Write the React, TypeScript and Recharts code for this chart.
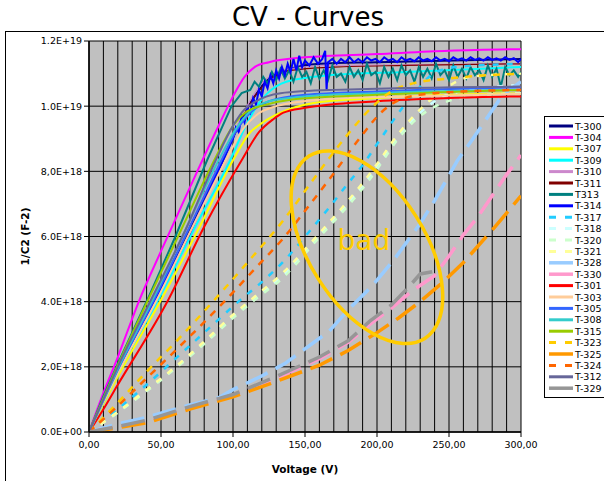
import React from 'react';
import { LineChart, Line, XAxis, YAxis, CartesianGrid, ReferenceDot, Label } from 'recharts';

// values: [voltage (V), 1/C^2 in units of 1e18 F^-2]
const T300: [number, number][] = [[0,0],[10,1.0],[20,1.95],[46,4.05],[70,6.2],[93,8.34],[105,9.5],[115,10.3],[125,10.85],[140,11.15],[160,11.3],[200,11.35],[300,11.45]];
const T304: [number, number][] = [[0,0],[10,1.2],[20,2.3],[35,4.05],[50,5.55],[70,7.5],[90,9.4],[100,10.3],[108,10.9],[115,11.2],[125,11.35],[150,11.5],[200,11.6],[250,11.7],[300,11.75]];
const T307: [number, number][] = [[0,0],[10,0.85],[20,1.7],[50,4.05],[78,6.4],[100,8.34],[112,9.2],[119,9.45],[133,9.8],[156,10.1],[200,10.25],[300,10.4]];
const T309: [number, number][] = [[0,0],[10,0.9],[20,1.8],[48,4.05],[75,6.4],[98,8.34],[110,9.5],[118,10.1],[124,10.4],[137,10.75],[167,10.95],[220,11.05],[300,11.2]];
const T310: [number, number][] = [[0,0],[20,1.9],[45,4.1],[70,6.4],[92,8.4],[105,9.6],[115,10.4],[125,10.9],[140,11.15],[170,11.25],[300,11.3]];
const T311: [number, number][] = [[0,0],[10,0.95],[20,1.9],[45,4.05],[70,6.3],[93,8.4],[105,9.5],[115,10.3],[125,10.8],[140,11.1],[170,11.2],[220,11.25],[300,11.3]];
const T313: [number, number][] = [[0,0],[10,1.1],[20,2.1],[42,4.2],[60,6.0],[82,8.34],[99,10.0],[106,10.4],[112,10.5],[115,10.75],[118,10.6],[121,10.9],[124,10.7],[127,11.05],[130,10.8],[133,11.15],[136,10.85],[139,11.1],[142,10.75],[145,11.2],[148,10.9],[151,11.05],[154,10.7],[157,11.2],[160,10.85],[163,11.1],[166,10.8],[169,11.25],[172,10.9],[175,11.0],[178,10.75],[181,11.2],[184,10.9],[187,11.1],[190,10.8],[193,11.3],[196,10.95],[199,11.05],[202,10.7],[205,11.2],[208,10.9],[211,11.15],[214,10.8],[217,11.25],[220,10.95],[223,11.1],[226,10.75],[229,11.2],[232,10.9],[235,11.15],[238,10.85],[241,11.3],[244,10.95],[247,11.1],[250,10.8],[253,11.25],[256,10.9],[259,11.15],[262,10.85],[265,11.2],[268,10.95],[271,11.1],[274,10.8],[277,11.25],[280,10.9],[283,11.15],[286,10.6],[289,11.2],[292,10.95],[295,11.1],[298,10.9],[300,11.05]];
const T314: [number, number][] = [[0,0],[10,0.95],[20,1.9],[46,4.05],[70,6.1],[93,8.34],[100,9.0],[102,9.35],[104,9.2],[106,9.7],[108,9.5],[110,9.95],[112,9.8],[114,10.25],[116,10.05],[118,10.5],[120,10.3],[122,10.75],[124,10.55],[126,10.95],[128,10.7],[130,11.1],[132,10.85],[134,11.2],[136,10.95],[138,11.3],[140,11.05],[142,11.45],[144,11.1],[146,11.55],[148,11.2],[150,11.4],[153,11.25],[156,11.5],[159,11.3],[162,11.45],[164,11.7],[165,10.5],[166,11.35],[169,11.45],[172,11.3],[175,11.45],[178,11.35],[181,11.5],[184,11.35],[187,11.45],[190,11.35],[193,11.5],[196,11.4],[199,11.45],[202,11.35],[205,11.5],[208,11.4],[211,11.45],[214,11.35],[217,11.5],[220,11.4],[223,11.45],[226,11.38],[229,11.5],[232,11.4],[235,11.45],[238,11.38],[241,11.5],[244,11.4],[247,11.45],[250,11.38],[253,11.5],[256,11.42],[259,11.47],[262,11.4],[265,11.5],[268,11.42],[271,11.47],[274,11.4],[277,11.5],[280,11.42],[283,11.47],[286,11.4],[289,11.5],[292,11.42],[295,11.47],[298,11.35],[300,11.45]];
const T317: [number, number][] = [[0,0],[20,0.7],[40,1.45],[60,2.25],[80,3.05],[105,4.05],[120,4.6],[136,5.28],[155,6.26],[167,6.9],[179,7.58],[190,8.19],[201,8.9],[218,9.97],[228,10.5],[239,11.0],[255,11.2],[300,11.3]];
const T318: [number, number][] = [[0,0],[20,0.6],[40,1.28],[60,1.98],[80,2.74],[100,3.55],[115,4.1],[135,4.82],[160,6.04],[179,6.97],[192,7.65],[202,8.27],[214,9.02],[230,9.8],[246,10.3],[265,10.5],[300,10.65]];
const T320: [number, number][] = [[0,0],[20,0.6],[40,1.25],[60,1.95],[80,2.7],[100,3.5],[115,4.05],[135,4.75],[160,5.98],[179,6.9],[192,7.58],[202,8.19],[214,8.96],[230,9.7],[246,10.1],[265,10.3],[300,10.4]];
const T321: [number, number][] = [[0,0],[20,0.62],[40,1.3],[60,2.0],[80,2.78],[100,3.6],[115,4.15],[135,4.9],[160,6.1],[179,7.05],[192,7.75],[202,8.35],[214,9.1],[230,9.9],[246,10.5],[265,10.9],[300,11.0]];
const T328: [number, number][] = [[0,0],[20,0.25],[40,0.45],[70,0.83],[90,1.05],[100,1.3],[120,1.72],[136,2.1],[150,2.55],[167,3.1],[180,3.75],[197,4.5],[212,5.3],[230,6.4],[240,7.1],[256,8.34],[266,8.96],[285,10.2],[292,10.5],[300,10.75]];
const T330: [number, number][] = [[0,0],[20,0.15],[40,0.33],[70,0.74],[100,1.12],[130,1.65],[160,2.25],[180,2.75],[195,3.3],[210,3.8],[225,4.35],[240,4.8],[250,5.4],[260,6.05],[270,6.6],[280,7.25],[290,7.9],[300,8.5]];
const T301: [number, number][] = [[0,0],[10,0.7],[20,1.45],[55,4.05],[80,6.3],[106,8.34],[118,9.2],[128,9.6],[135,9.8],[150,9.95],[200,10.15],[250,10.25],[300,10.3]];
const T303: [number, number][] = [[0,0],[20,1.8],[47,4.05],[72,6.3],[95,8.34],[107,9.3],[117,9.75],[130,10.0],[160,10.2],[220,10.3],[300,10.38]];
const T305: [number, number][] = [[0,0],[20,1.9],[45,4.05],[70,6.3],[92,8.34],[103,9.3],[112,9.8],[125,10.15],[150,10.35],[200,10.45],[300,10.58]];
const T308: [number, number][] = [[0,0],[20,1.95],[44,4.05],[68,6.3],[90,8.34],[102,9.3],[112,9.85],[125,10.15],[150,10.3],[200,10.4],[300,10.5]];
const T315: [number, number][] = [[0,0],[20,2.05],[41,4.05],[65,6.3],[87,8.34],[100,9.4],[110,9.85],[119,10.0],[140,10.2],[200,10.35],[300,10.5]];
const T323: [number, number][] = [[0,0],[20,0.9],[40,1.85],[61,2.8],[86,4.0],[110,5.2],[135,6.5],[155,7.7],[176,8.93],[195,9.9],[210,10.45],[225,10.7],[250,10.85],[300,11.0]];
const T325: [number, number][] = [[0,0],[20,0.13],[40,0.28],[70,0.7],[100,1.08],[130,1.55],[160,2.05],[180,2.5],[200,3.05],[215,3.5],[230,4.0],[245,4.57],[260,5.2],[270,5.7],[280,6.2],[290,6.72],[300,7.25]];
const T324: [number, number][] = [[0,0],[20,0.8],[40,1.65],[60,2.5],[95,4.05],[115,5.0],[135,5.95],[153,6.96],[169,7.88],[187,8.96],[204,9.85],[216,10.2],[240,10.4],[300,10.5]];
const T312: [number, number][] = [[0,0],[10,1.0],[20,2.0],[43,4.05],[68,6.3],[88,8.34],[100,9.4],[108,9.9],[114,10.1],[133,10.4],[170,10.5],[300,10.6]];
const T329: [number, number][] = [[0,0],[20,0.17],[40,0.36],[70,0.78],[100,1.15],[130,1.7],[160,2.3],[180,2.8],[195,3.4],[210,3.9],[222,4.45],[230,4.85],[239,4.92]];

const X_TICKS = [0, 50, 100, 150, 200, 250, 300];
const Y_TICKS = [0, 2e18, 4e18, 6e18, 8e18, 1e19, 1.2e19];
const Y_TICK_LABELS = ['0.0E+00', '2,0E+18', '4.0E+18', '6.0E+18', '8,0E+18', '1.0E+19', '1.2E+19'];
const BAD_LABEL = 'bad';
const BAD_CENTER_V = 193;
const BAD_CENTER_Y = 5.67e18;

type S = { name: string; color: string; data: [number, number][]; w: number; dash?: string; legendDash?: string; legendW?: number; type: 'monotone' | 'linear' };

const SERIES: S[] = [
  { name: 'T-300', color: '#000080', data: T300, w: 2, type: 'monotone' },
  { name: 'T-304', color: '#FF00FF', data: T304, w: 2, type: 'monotone' },
  { name: 'T-307', color: '#FFFF00', data: T307, w: 2, type: 'monotone' },
  { name: 'T-309', color: '#00FFFF', data: T309, w: 2, type: 'monotone' },
  { name: 'T-310', color: '#CC88CC', data: T310, w: 1.2, type: 'monotone' },
  { name: 'T-311', color: '#800000', data: T311, w: 1.2, type: 'monotone' },
  { name: 'T313', color: '#008080', data: T313, w: 2, type: 'linear' },
  { name: 'T-314', color: '#0000FF', data: T314, w: 2, type: 'linear' },
  { name: 'T-317', color: '#22CCFF', data: T317, w: 2.5, dash: '6 8', legendDash: '7 9', type: 'monotone' },
  { name: 'T-318', color: '#CCFFFF', data: T318, w: 2.5, dash: '6 8', legendDash: '7 9', type: 'monotone' },
  { name: 'T-320', color: '#CCFFCC', data: T320, w: 2.5, dash: '6 8', legendDash: '7 9', type: 'monotone' },
  { name: 'T-321', color: '#FFFF99', data: T321, w: 2.5, dash: '6 8', legendDash: '7 9', type: 'monotone' },
  { name: 'T-328', color: '#99CCFF', data: T328, w: 3.5, dash: '24 9', legendW: 3.5, type: 'linear' },
  { name: 'T-330', color: '#FF99CC', data: T330, w: 3.5, dash: '24 9', legendW: 3.5, type: 'linear' },
  { name: 'T-301', color: '#FF0000', data: T301, w: 2, type: 'monotone' },
  { name: 'T-303', color: '#FFCC99', data: T303, w: 2, type: 'monotone' },
  { name: 'T-305', color: '#3366FF', data: T305, w: 2, type: 'monotone' },
  { name: 'T-308', color: '#33CCCC', data: T308, w: 2, type: 'monotone' },
  { name: 'T-315', color: '#99CC00', data: T315, w: 2, type: 'monotone' },
  { name: 'T-323', color: '#FFCC00', data: T323, w: 2.5, dash: '7 7', legendDash: '7 9', type: 'monotone' },
  { name: 'T-325', color: '#FF9900', data: T325, w: 3.5, dash: '24 9', legendW: 3.5, type: 'linear' },
  { name: 'T-324', color: '#FF6600', data: T324, w: 2.5, dash: '7 7', legendDash: '7 9', type: 'monotone' },
  { name: 'T-312', color: '#666699', data: T312, w: 2, type: 'monotone' },
  { name: 'T-329', color: '#969696', data: T329, w: 3.5, dash: '24 9', legendW: 3.5, type: 'linear' },
];

const FONT = 'DejaVu Sans';
const W = 604;
const H = 481;

const toRows = (d: [number, number][]) => d.map(([x, y]) => ({ x, y: y * 1e18 }));

const fmtX = (v: number) => v.toFixed(2).replace('.', ',');
const fmtY = (v: number) => {
  const i = Y_TICKS.indexOf(v);
  return i >= 0 ? Y_TICK_LABELS[i] : '';
};

const Legend = () => {
  const top = 116;
  const step = 11.4;
  return (
    <svg width={W} height={H} style={{ position: 'absolute', left: 0, top: 0, pointerEvents: 'none' }}>
      <rect x={544.5} y={top + 0.5} width={80} height={281} fill="#fff" stroke="#000" strokeWidth={1} />
      {SERIES.map((s, i) => {
        const y = top + 10 + i * step;
        return (
          <g key={s.name}>
            <line x1={549} x2={573} y1={y} y2={y} stroke={s.color} strokeWidth={s.legendW ?? 3} strokeDasharray={s.legendDash} />
            <text x={575} y={y} dominantBaseline="central" fontSize={9.5} fontFamily={FONT} fill="#000">{s.name}</text>
          </g>
        );
      })}
    </svg>
  );
};

const BadShape = (p: any) => (
  <g>
    <ellipse cx={p.cx} cy={p.cy} rx={108} ry={58} transform={`rotate(57.6 ${p.cx} ${p.cy})`} fill="none" stroke="#FFCC00" strokeWidth={3.5} />
    <text x={p.cx - 3} y={p.cy + 3} textAnchor="middle" fontSize={28} fontFamily={FONT} fill="#FFCC00">{BAD_LABEL}</text>
  </g>
);

export default function App() {
  return (
    <div style={{ position: 'absolute', left: 0, top: 0, width: W, height: H, background: '#fff', overflow: 'hidden', fontFamily: FONT }}>
      <div style={{ position: 'absolute', left: 5, top: 31, width: 700, height: 500, borderTop: '1px solid #000', borderLeft: '1px solid #000' }} />
      <div style={{ position: 'absolute', left: 0, top: 0, width: 616, textAlign: 'center', fontSize: 26, lineHeight: '34px', fontFamily: FONT, color: '#000' }}>CV - Curves</div>
      <div style={{ position: 'absolute', left: 0, top: 0 }}>
        <LineChart width={W} height={H} margin={{ top: 41, right: 83, bottom: 9, left: 19 }} style={{ fontFamily: FONT }}>
          <CartesianGrid
            fill="#C0C0C0"
            fillOpacity={1}
            stroke="#000"
            strokeWidth={1}
            verticalCoordinatesGenerator={({ offset }: any) => Array.from({ length: 31 }, (_, i) => offset.left + (offset.width * i) / 30)}
          />
          <XAxis
            type="number"
            dataKey="x"
            domain={[0, 300]}
            ticks={X_TICKS}
            tickFormatter={fmtX}
            allowDataOverflow
            height={40}
            tickSize={5}
            tickMargin={4}
            tick={{ fontSize: 9.5, fill: '#000', fontFamily: FONT }}
            axisLine={{ stroke: '#000', strokeWidth: 1.5 }}
            tickLine={{ stroke: '#000' }}
          >
            <Label value="Voltage (V)" position="insideBottom" offset={-1} style={{ fontSize: 10.5, fontWeight: 'bold', fill: '#000', fontFamily: FONT }} />
          </XAxis>
          <YAxis
            type="number"
            domain={[0, 1.2e19]}
            ticks={Y_TICKS}
            tickFormatter={fmtY}
            allowDataOverflow
            width={70}
            tickSize={5}
            tick={{ fontSize: 9.5, fill: '#000', fontFamily: FONT }}
            axisLine={{ stroke: '#000', strokeWidth: 1.5 }}
            tickLine={{ stroke: '#000' }}
          >
            <Label
              content={({ viewBox }: any) => (
                <text
                  x={viewBox.x + 6}
                  y={viewBox.y + viewBox.height / 2}
                  transform={`rotate(-90 ${viewBox.x + 6} ${viewBox.y + viewBox.height / 2})`}
                  textAnchor="middle"
                  dominantBaseline="central"
                  fontSize={10.5}
                  fontWeight="bold"
                  fontFamily={FONT}
                  fill="#000"
                >
                  1/C2 (F-2)
                </text>
              )}
            />
          </YAxis>
          {SERIES.map((s) => (
            <Line
              key={s.name}
              name={s.name}
              data={toRows(s.data)}
              dataKey="y"
              type={s.type}
              stroke={s.color}
              strokeWidth={s.w}
              strokeDasharray={s.dash}
              dot={false}
              activeDot={false}
              isAnimationActive={false}
            />
          ))}
          <ReferenceDot x={BAD_CENTER_V} y={BAD_CENTER_Y} r={1} ifOverflow="visible" shape={BadShape} />
        </LineChart>
      </div>
      <Legend />
    </div>
  );
}
